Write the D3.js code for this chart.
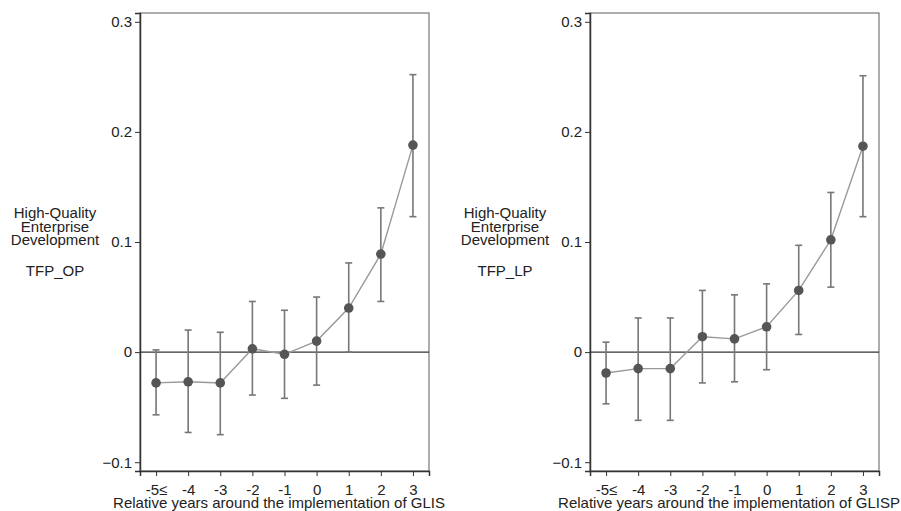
<!DOCTYPE html>
<html>
<head>
<meta charset="utf-8">
<script src="https://cdn.jsdelivr.net/npm/d3@7"></script>
<style>
  body { margin: 0; background: #fff; }
  svg { font-family: "Liberation Sans", Arial, sans-serif; }
</style>
</head>
<body>
<div id="chart"></div>
<script>
// event-time periods
const periods = [-5, -4, -3, -2, -1, 0, 1, 2, 3];
const periodLabels = ["-5\u2264", "-4", "-3", "-2", "-1", "0", "1", "2", "3"];
const yTicks = [-0.1, 0, 0.1, 0.2, 0.3];

// TFP_OP panel
const opCoef  = [-0.028, -0.027, -0.028, 0.003, -0.002, 0.010, 0.040, 0.089, 0.188];
const opUpper = [0.002, 0.020, 0.018, 0.046, 0.038, 0.050, 0.081, 0.131, 0.252];
const opLower = [-0.057, -0.073, -0.075, -0.039, -0.042, -0.030, 0.000, 0.046, 0.123];

// TFP_LP panel
const lpCoef  = [-0.019, -0.015, -0.015, 0.014, 0.012, 0.023, 0.056, 0.102, 0.187];
const lpUpper = [0.009, 0.031, 0.031, 0.056, 0.052, 0.062, 0.097, 0.145, 0.251];
const lpLower = [-0.047, -0.062, -0.062, -0.028, -0.027, -0.016, 0.016, 0.059, 0.123];

const panels = [
  {offset: 0, name: "TFP_OP", coef: opCoef, lo: opLower, hi: opUpper, xtitle: "Relative years around the implementation of GLIS"},
  {offset: 450, name: "TFP_LP", coef: lpCoef, lo: lpLower, hi: lpUpper, xtitle: "Relative years around the implementation of GLISP"}
];

const width = 901, height = 511;
const margin = {top: 13, left: 140, plotW: 289, plotH: 458};

const svg = d3.select("#chart").append("svg")
  .attr("width", width)
  .attr("height", height);

panels.forEach(p => {
  let g = svg.append("g")
    .attr("transform", "translate(" + (p.offset + margin.left) + "," + margin.top + ")");

  let x = d3.scaleLinear().domain([-5.5, 3.5]).range([0, margin.plotW]);
  let y = d3.scaleLinear().domain([-0.108, 0.308]).range([margin.plotH, 0]);

  // frame: top/right light, left/bottom dark
  g.append("rect")
    .attr("width", margin.plotW).attr("height", margin.plotH)
    .attr("fill", "none").attr("stroke", "#777").attr("stroke-width", 1.2);

  let yAxis = d3.axisLeft(y).tickValues(yTicks).tickSize(5).tickPadding(3)
    .tickFormat(d => d === 0 ? "0" : d3.format(".1f")(d));
  let yg = g.append("g").call(yAxis);
  let xAxis = d3.axisBottom(x).tickValues(periods).tickSize(5).tickPadding(8)
    .tickFormat((d, i) => periodLabels[i]);
  let xg = g.append("g").attr("transform", "translate(0," + margin.plotH + ")").call(xAxis);

  [yg, xg].forEach(a => {
    a.select(".domain").attr("stroke", "#333").attr("stroke-width", 1.5);
    a.selectAll(".tick line").attr("stroke", "#333");
    a.selectAll(".tick text").attr("fill", "#222").style("font-size", "15px");
  });

  // zero reference line
  g.append("line")
    .attr("x1", 0).attr("x2", margin.plotW)
    .attr("y1", y(0)).attr("y2", y(0))
    .attr("stroke", "#333").attr("stroke-width", 1.2);

  // confidence intervals
  let ci = g.append("g").attr("stroke", "#777").attr("stroke-width", 1.6);
  periods.forEach((t, i) => {
    ci.append("line").attr("x1", x(t)).attr("x2", x(t)).attr("y1", y(p.lo[i])).attr("y2", y(p.hi[i]));
    ci.append("line").attr("x1", x(t) - 3.5).attr("x2", x(t) + 3.5).attr("y1", y(p.lo[i])).attr("y2", y(p.lo[i]));
    ci.append("line").attr("x1", x(t) - 3.5).attr("x2", x(t) + 3.5).attr("y1", y(p.hi[i])).attr("y2", y(p.hi[i]));
  });

  let line = d3.line().x((d, i) => x(periods[i])).y(d => y(d));
  g.append("path").datum(p.coef)
    .attr("d", line).attr("fill", "none")
    .attr("stroke", "#999").attr("stroke-width", 1.4);

  g.selectAll("circle.pt").data(p.coef).join("circle")
    .attr("class", "pt")
    .attr("cx", (d, i) => x(periods[i])).attr("cy", d => y(d))
    .attr("r", 4.8).attr("fill", "#555");

  // x title
  svg.append("text")
    .attr("x", p.offset + 279).attr("y", 508)
    .attr("text-anchor", "middle").attr("fill", "#222")
    .style("font-size", "15px").text(p.xtitle);

  // y title block (tight leading as in the original)
  let yt = svg.append("text").attr("text-anchor", "middle").attr("fill", "#222").style("font-size", "15px");
  ["High-Quality", "Enterprise", "Development"].forEach((s, k) => {
    yt.append("tspan").attr("x", p.offset + 55).attr("y", 218 + k * 13.5).text(s);
  });
  yt.append("tspan").attr("x", p.offset + 55).attr("y", 276).text(p.name);
});
</script>
</body>
</html>
